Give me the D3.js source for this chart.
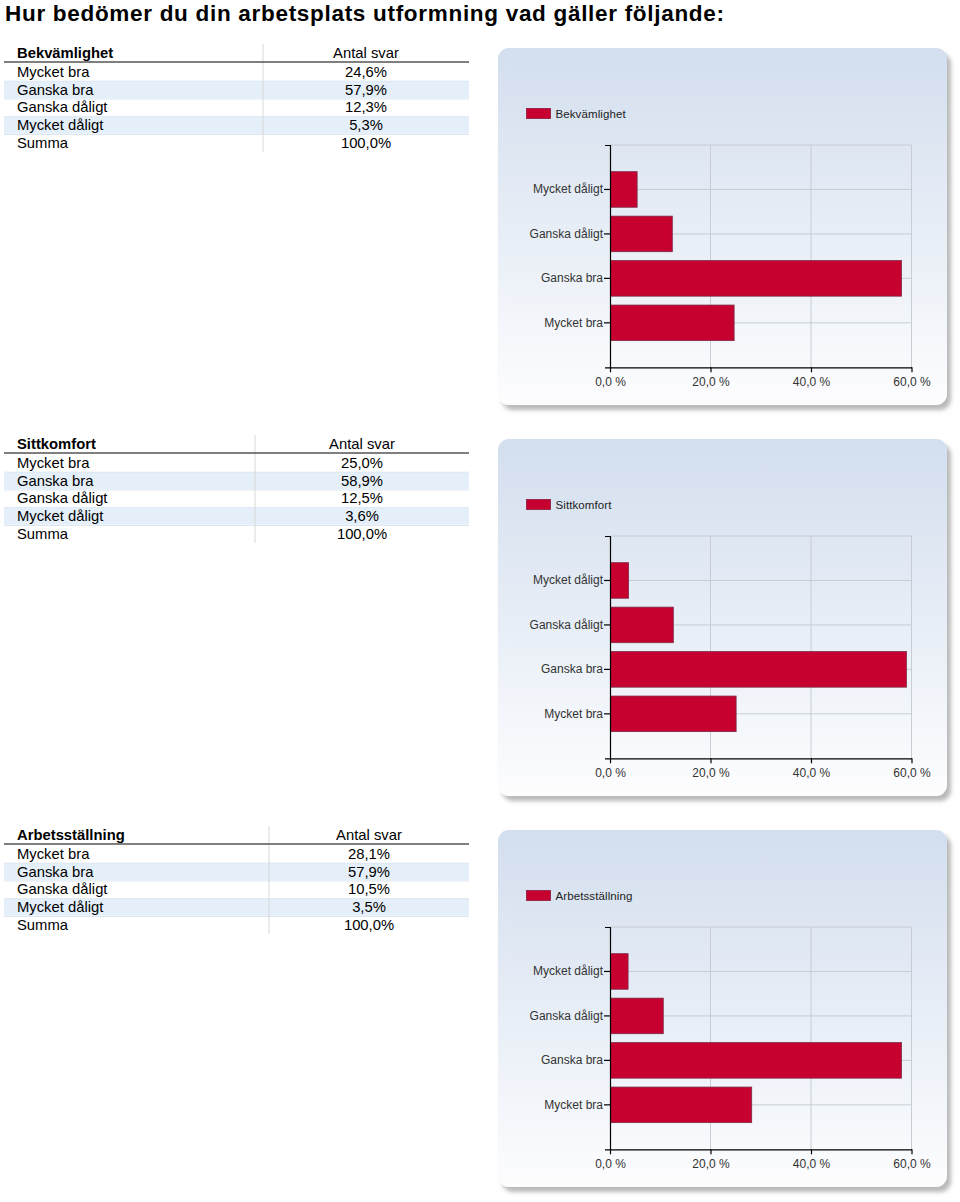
<!DOCTYPE html>
<html>
<head>
<meta charset="utf-8">
<script src="https://cdn.jsdelivr.net/npm/d3@7/dist/d3.min.js"></script>
<style>
  html, body { margin: 0; padding: 0; background: #fff; }
  svg { display: block; font-family: "Liberation Sans", Arial, sans-serif; }
</style>
</head>
<body>
<svg id="chart" width="960" height="1202"></svg>
<script>
// ---- data ----
const title = "Hur bedömer du din arbetsplats utformning vad gäller följande:";
const categories = ["Mycket bra", "Ganska bra", "Ganska dåligt", "Mycket dåligt"];
const groupNames = ["Bekvämlighet", "Sittkomfort", "Arbetsställning"];
const bekvamlighet = [24.6, 57.9, 12.3, 5.3];
const sittkomfort = [25.0, 58.9, 12.5, 3.6];
const arbetsstallning = [28.1, 57.9, 10.5, 3.5];
const valueLabels = [
  ["24,6%", "57,9%", "12,3%", "5,3%"],
  ["25,0%", "58,9%", "12,5%", "3,6%"],
  ["28,1%", "57,9%", "10,5%", "3,5%"]
];
const sumLabel = "Summa";
const sumValue = "100,0%";
const columnHeader = "Antal svar";
const xTicks = [0, 20, 40, 60];
const seriesValues = [bekvamlighet, sittkomfort, arbetsstallning];

// ---- layout ----
const svg = d3.select("#chart");
const sectionStep = 391;
const tableSep = [263, 255, 269];

const defs = svg.append("defs");
const grad = defs.append("linearGradient").attr("id", "panelGrad")
  .attr("x1", 0).attr("y1", 0).attr("x2", 0).attr("y2", 1);
grad.append("stop").attr("offset", "0%").attr("stop-color", "#d3deee");
grad.append("stop").attr("offset", "55%").attr("stop-color", "#e9eff7");
grad.append("stop").attr("offset", "100%").attr("stop-color", "#fdfdfe");
const filt = defs.append("filter").attr("id", "shadow")
  .attr("x", "-5%").attr("y", "-5%").attr("width", "115%").attr("height", "115%");
filt.append("feDropShadow").attr("dx", 4).attr("dy", 5).attr("stdDeviation", 2)
  .attr("flood-color", "#808080").attr("flood-opacity", 0.55);

svg.append("text").attr("x", 5).attr("y", 20.5)
  .attr("font-size", 22.5).attr("font-weight", "bold").attr("fill", "#000")
  .attr("letter-spacing", 0.7)
  .text(title);

const fmtPct = d => d3.format(".1f")(d).replace(".", ",") + " %";

seriesValues.forEach((vals, gi) => {
  const oy = gi * sectionStep;
  const g = svg.append("g").attr("transform", `translate(0,${oy})`);

  // ---------- table ----------
  const t = g.append("g");
  const sep = tableSep[gi];
  const valCenter = (sep + 469) / 2;
  const rowBase = 76.8, rowH = 17.75;
  const fs = 14.8;
  const rows = categories.map((c, i) => ({ label: c, value: valueLabels[gi][i] }));
  rows.push({ label: sumLabel, value: sumValue });

  t.selectAll("rect.band").data(rows).join("rect")
    .attr("class", "band")
    .attr("x", 4).attr("width", 465)
    .attr("y", (d, i) => rowBase + i * rowH - 13.3)
    .attr("height", rowH - 0.8)
    .attr("fill", (d, i) => i % 2 === 1 ? "#e5eff9" : "#ffffff");
  t.selectAll("line.rowline").data(rows.slice(0, 4)).join("line")
    .attr("class", "rowline")
    .attr("x1", 4).attr("x2", 469)
    .attr("y1", (d, i) => rowBase + i * rowH + 4.4)
    .attr("y2", (d, i) => rowBase + i * rowH + 4.4)
    .attr("stroke", "#dbe6f2").attr("stroke-width", 1);

  t.append("line").attr("x1", sep).attr("x2", sep).attr("y1", 44).attr("y2", 152)
    .attr("stroke", "#d8d8d8").attr("stroke-width", 1);
  t.append("line").attr("x1", 4).attr("x2", 469).attr("y1", 62).attr("y2", 62)
    .attr("stroke", "#555").attr("stroke-width", 1.5);
  t.append("text").attr("x", 17).attr("y", 58.3)
    .attr("font-size", fs).attr("font-weight", "bold").attr("fill", "#000")
    .text(groupNames[gi]);
  t.append("text").attr("x", valCenter).attr("y", 58.3).attr("text-anchor", "middle")
    .attr("font-size", fs).attr("fill", "#000").text(columnHeader);
  t.selectAll("text.lab").data(rows).join("text").attr("class", "lab")
    .attr("x", 17).attr("y", (d, i) => rowBase + i * rowH)
    .attr("font-size", fs).attr("fill", "#000").text(d => d.label);
  t.selectAll("text.val").data(rows).join("text").attr("class", "val")
    .attr("x", valCenter).attr("y", (d, i) => rowBase + i * rowH)
    .attr("text-anchor", "middle")
    .attr("font-size", fs).attr("fill", "#000").text(d => d.value);

  // ---------- chart panel ----------
  const p = g.append("g");
  p.append("rect").attr("x", 498).attr("y", 48).attr("width", 449).attr("height", 357)
    .attr("rx", 11).attr("ry", 11)
    .attr("fill", "url(#panelGrad)").attr("filter", "url(#shadow)");

  // legend
  p.append("rect").attr("x", 526.5).attr("y", 108.5).attr("width", 24).attr("height", 10)
    .attr("fill", "#c6002f").attr("stroke", "#8c1a3c").attr("stroke-width", 0.8);
  p.append("text").attr("x", 555.5).attr("y", 117.5)
    .attr("font-size", 11.5).attr("fill", "#222").attr("letter-spacing", 0.1)
    .text(groupNames[gi]);

  const x = d3.scaleLinear().domain([0, 60]).range([610, 911.5]);
  const yCats = categories.slice().reverse();
  const y = d3.scaleBand().domain(yCats).range([145, 367.3])
    .paddingInner(0.2).paddingOuter(0.6);

  // grid
  p.append("g").selectAll("line").data(xTicks.slice(1)).join("line")
    .attr("x1", d => x(d)).attr("x2", d => x(d)).attr("y1", 145).attr("y2", 367.3)
    .attr("stroke", "#c8ccd4").attr("stroke-width", 1);
  p.append("line").attr("x1", 610).attr("x2", x(60)).attr("y1", 145).attr("y2", 145)
    .attr("stroke", "#c8ccd4").attr("stroke-width", 1);
  p.append("g").selectAll("line").data(yCats).join("line")
    .attr("x1", 610).attr("x2", x(60))
    .attr("y1", d => y(d) + y.bandwidth() / 2).attr("y2", d => y(d) + y.bandwidth() / 2)
    .attr("stroke", "#c8ccd4").attr("stroke-width", 1);

  // bars
  p.append("g").selectAll("rect").data(categories.map((c, i) => ({ c, v: vals[i] }))).join("rect")
    .attr("x", x(0) + 0.5)
    .attr("y", d => y(d.c))
    .attr("width", d => x(d.v) - x(0))
    .attr("height", y.bandwidth())
    .attr("fill", "#c6002f").attr("stroke", "#7d2a48").attr("stroke-width", 0.8);

  // axes
  const yAxis = p.append("g").attr("transform", "translate(610,0)")
    .call(d3.axisLeft(y).tickSize(6).tickSizeOuter(5).tickPadding(1));
  const xAxis = p.append("g").attr("transform", "translate(0,367.3)")
    .call(d3.axisBottom(x).tickValues(xTicks).tickSize(5).tickSizeOuter(0).tickPadding(5).tickFormat(fmtPct));
  [yAxis, xAxis].forEach(a => {
    a.attr("font-size", 12);
    a.selectAll("path,line").attr("stroke", "#000").attr("stroke-width", 1.2);
    a.selectAll("text").attr("font-family", "Liberation Sans, Arial, sans-serif")
      .attr("font-size", 12).attr("fill", "#333");
  });
});
</script>
</body>
</html>
